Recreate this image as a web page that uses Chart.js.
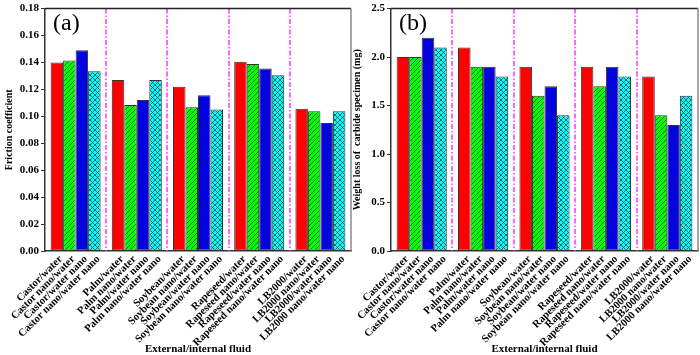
<!DOCTYPE html>
<html><head><meta charset="utf-8">
<script src="https://cdn.jsdelivr.net/npm/chart.js@4/dist/chart.umd.min.js"></script>
<style>
html,body{margin:0;padding:0;background:#fff;}
#wrap{position:relative;width:700px;height:355px;overflow:hidden;background:#fff;}
.box{position:absolute;top:0;height:355px;width:354px;}
#boxA{left:0;}
#boxB{left:346px;}
canvas{display:block;}
</style></head><body>
<div id="wrap">
  <div class="box" id="boxA"><canvas id="cA"></canvas></div>
  <div class="box" id="boxB"><canvas id="cB"></canvas></div>
</div>
<script>
// ---- data ----
const groups = ['Castor', 'Palm', 'Soybean', 'Rapeseed', 'LB2000'];
const barLabels = [
  'Castor/water', 'Castor nano/water', 'Castor/water nano', 'Castor nano/water nano',
  'Palm/water', 'Palm nano/water', 'Palm/water nano', 'Palm nano/water nano',
  'Soybean/water', 'Soybean nano/water', 'Soybean/water nano', 'Soybean nano/water nano',
  'Rapeseed/water', 'Rapeseed nano/water', 'Rapeseed/water nano', 'Rapeseed nano/water nano',
  'LB2000/water', 'LB2000 nano/water', 'LB2000/water nano', 'LB2000 nano/water nano'
];
const seriesNames = ['Oil/water', 'Oil nano/water', 'Oil/water nano', 'Oil nano/water nano'];

// (a) friction coefficient
const frictionOilWater        = [0.140, 0.127, 0.122, 0.1405, 0.1056];
const frictionOilNanoWater    = [0.1415, 0.1085, 0.1068, 0.1388, 0.1037];
const frictionOilWaterNano    = [0.149, 0.1122, 0.1156, 0.1356, 0.0951];
const frictionOilNanoWaterNano= [0.1334, 0.127, 0.1051, 0.1305, 0.1037];

// (b) weight loss of carbide specimen (mg)
const wearOilWater        = [2.0, 2.1, 1.9, 1.9, 1.8];
const wearOilNanoWater    = [2.0, 1.9, 1.6, 1.7, 1.4];
const wearOilWaterNano    = [2.2, 1.9, 1.7, 1.9, 1.3];
const wearOilNanoWaterNano= [2.1, 1.8, 1.4, 1.8, 1.6];

const yTicksA = ['0.00','0.02','0.04','0.06','0.08','0.10','0.12','0.14','0.16','0.18'];
const yTicksB = ['0.0','0.5','1.0','1.5','2.0','2.5'];

// ---- styling ----
const SERIF = "'Liberation Serif', 'Times New Roman', serif";
const CAT_PCT = 0.817;

function hatch(bg, type) {
  const s = 5;
  const c = document.createElement('canvas');
  c.width = s; c.height = s;
  const x = c.getContext('2d');
  x.fillStyle = bg; x.fillRect(0, 0, s, s);
  x.strokeStyle = 'rgba(20,20,20,0.9)';
  x.lineWidth = 0.7;
  for (const off of [-s, 0, s]) {
    if (type === '/' || type === 'x') {
      x.beginPath(); x.moveTo(off, s); x.lineTo(off + s, 0); x.stroke();
    }
    if (type === '\\' || type === 'x') {
      x.beginPath(); x.moveTo(off, 0); x.lineTo(off + s, s); x.stroke();
    }
  }
  return x.createPattern(c, 'repeat');
}

const fills = [
  '#ff0000',
  hatch('#00ff00', '/'),
  hatch('#0000ff', '\\'),
  hatch('#00ffff', 'x')
];

function toPoints(arr) { return arr.map((v, i) => ({ x: i, y: v })); }

const decor = {
  id: 'decor',
  beforeDatasetsDraw(chart) {
    const { ctx, chartArea: a, scales: { x } } = chart;
    ctx.save();
    ctx.strokeStyle = '#ff33ff';
    ctx.lineWidth = 1.5;
    ctx.setLineDash([5, 2, 1.5, 2]);
    for (let g = 0; g < groups.length - 1; g++) {
      const px = Math.round(x.getPixelForValue(g + 0.5));
      ctx.beginPath(); ctx.moveTo(px, a.top); ctx.lineTo(px, a.bottom); ctx.stroke();
    }
    ctx.restore();
  },
  afterDraw(chart, args, opts) {
    const { ctx, chartArea: a } = chart;
    ctx.save();
    ctx.lineWidth = 1.5;
    ctx.strokeStyle = '#222';
    ctx.beginPath(); ctx.moveTo(a.left, a.top); ctx.lineTo(a.right, a.top); ctx.stroke();
    ctx.strokeStyle = '#888';
    ctx.beginPath(); ctx.moveTo(a.right, a.top); ctx.lineTo(a.right, a.bottom); ctx.stroke();
    ctx.fillStyle = '#000';
    ctx.font = "24px " + SERIF;
    ctx.textBaseline = 'alphabetic';
    ctx.textAlign = 'left';
    ctx.fillText(opts.panel, a.left + 8, a.top + 21);
    ctx.restore();
  }
};

function makeChart(id, panel, series, yMax, yStep, yTickLabels, yTitle, padRight, yTitlePad) {
  const datasets = series.map((s, k) => ({
    label: seriesNames[k],
    data: toPoints(s),
    backgroundColor: fills[k],
    borderColor: '#333',
    borderWidth: 1,
    borderSkipped: false,
    categoryPercentage: CAT_PCT,
    barPercentage: 1.0
  }));
  const n = series.length;
  return new Chart(document.getElementById(id), {
    type: 'bar',
    data: { datasets },
    options: {
      responsive: true,
      maintainAspectRatio: false,
      animation: false,
      layout: { padding: { top: 5, right: padRight, bottom: 0, left: 0 } },
      plugins: { legend: { display: false }, tooltip: { enabled: false }, decor: { panel } },
      scales: {
        x: {
          type: 'linear',
          position: 'bottom',
          min: -0.5, max: groups.length - 0.5,
          offset: false,
          afterBuildTicks(scale) {
            scale.ticks = groups.map((g, i) => ({ value: i }));
          },
          afterFit(scale) { scale.height = 0; },
          grid: { display: false },
          border: { display: false },
          ticks: { display: false }
        },
        xl: {
          type: 'linear',
          position: 'bottom',
          min: -0.5, max: groups.length - 0.5,
          offset: false,
          afterBuildTicks(scale) {
            const t = [];
            for (let g = 0; g < groups.length; g++)
              for (let k = 0; k < n; k++)
                t.push({ value: g + (k - (n - 1) / 2) * (CAT_PCT / n) });
            scale.ticks = t;
          },
          afterFit(scale) { scale.height = 104; },
          grid: { display: true, drawOnChartArea: false, drawTicks: false },
          border: { display: true, color: '#333', width: 1.5 },
          ticks: {
            autoSkip: false, minRotation: 45, maxRotation: 45, padding: 2,
            labelOffset: 4,
            color: '#000',
            font: { family: SERIF, size: 10.7, weight: 'bold' },
            callback: (v, i) => barLabels[i]
          },
          title: {
            display: true, text: 'External/internal fluid', color: '#000',
            font: { family: SERIF, size: 11, weight: 'bold' },
            padding: { top: 0, bottom: -1 }
          }
        },
        y: {
          min: 0, max: yMax,
          afterFit(scale) { scale.width = 45; },
          ticks: {
            stepSize: yStep, padding: 2, color: '#000',
            font: { family: SERIF, size: 11, weight: 'bold' },
            callback: (v, i) => yTickLabels[i]
          },
          grid: { display: true, drawOnChartArea: false, drawTicks: true, tickLength: 4, tickColor: '#333' },
          border: { display: true, color: '#333', width: 1.5 },
          title: {
            display: true, text: yTitle, color: '#000',
            font: { family: SERIF, size: 10, weight: 'bold' },
            padding: { top: yTitlePad, bottom: 0 }
          }
        }
      }
    },
    plugins: [decor]
  });
}

makeChart('cA', '(a)',
  [frictionOilWater, frictionOilNanoWater, frictionOilWaterNano, frictionOilNanoWaterNano],
  0.18, 0.02, yTicksA, 'Friction coefficient', 3, 3);
makeChart('cB', '(b)',
  [wearOilWater, wearOilNanoWater, wearOilWaterNano, wearOilNanoWaterNano],
  2.5, 0.5, yTicksB, 'Weight loss of  carbide specimen (mg)', 2, 5);
</script>
</body></html>
